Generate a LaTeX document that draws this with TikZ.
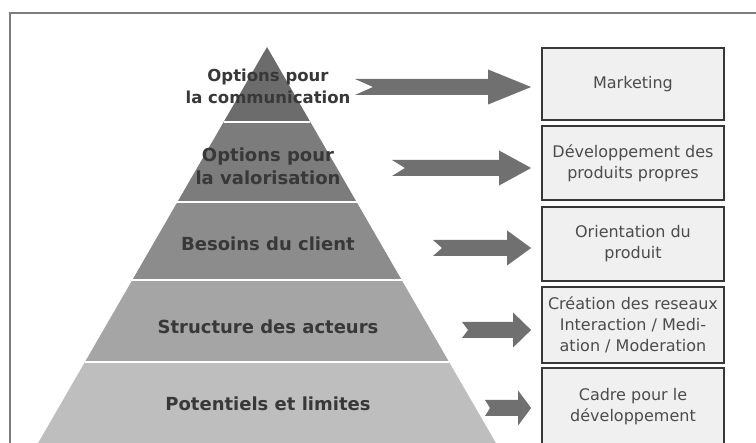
\documentclass[tikz,border=0pt]{standalone}
\usepackage{fontspec}
\setmainfont{DejaVu Sans}
\usetikzlibrary{calc}
\definecolor{rim}{RGB}{125,125,125}
\definecolor{shade1}{RGB}{108,108,108}
\definecolor{shade2}{RGB}{124,124,124}
\definecolor{shade3}{RGB}{140,140,140}
\definecolor{shade4}{RGB}{165,165,165}
\definecolor{shade5}{RGB}{190,190,190}
\definecolor{ink}{RGB}{56,56,56}
\definecolor{arrowgrey}{RGB}{112,112,112}
\definecolor{paper}{RGB}{240,240,240}
\tikzset{
  level/.style={font=\fontsize{18}{23}\selectfont\bfseries,text=ink,align=center},
  outcome/.style={draw=ink,fill=paper,line width=1.8pt,minimum width=182pt,
    minimum height=#1,align=center,text=ink!90,font=\fontsize{16}{21}\selectfont,inner sep=2pt},
  outcome/.default=74pt,
}
% notched block arrow: tail, tip, head length, notch depth
\newcommand\notcharrow[4]{%
  \fill[arrowgrey] ([yshift=8pt]#1) -- ([xshift=-#3,yshift=8pt]#2) -- ([xshift=-#3,yshift=17.5pt]#2)
    -- (#2) -- ([xshift=-#3,yshift=-17.5pt]#2) -- ([xshift=-#3,yshift=-8pt]#2)
    -- ([yshift=-8pt]#1) -- ([xshift=#4]#1) -- cycle;}

\begin{document}
\begin{tikzpicture}[x=1pt,y=-1pt]
  \useasboundingbox (0,0) rectangle (756,443);
  \fill[white] (0,0) rectangle (756,443);
  \draw[rim,line width=1.3pt] (10,443) -- (10,13) -- (756,13);
  % pyramid
  \foreach \ya/\yb/\c in {47/122/shade1,122/202/shade2,202/280/shade3,280/362/shade4,362/443/shade5}{
    \fill[\c] ({267-0.578*(\ya-47)},\ya) -- ({267+0.578*(\ya-47)},\ya)
      -- ({267+0.578*(\yb-47)},\yb) -- ({267-0.578*(\yb-47)},\yb) -- cycle;
  }
  \foreach \ys in {122,202,280,362}
    \draw[white,line width=2pt] ({267-0.578*(\ys-47)},\ys) -- ({267+0.578*(\ys-47)},\ys);
  \node[level,font=\fontsize{16.5}{22}\selectfont\bfseries] (l1) at (268,86) {Options pour\\la communication};
  \node[level] (l2) at (268,166) {Options pour\\la valorisation};
  \node[level] (l3) at (268,244) {Besoins du client};
  \node[level] (l4) at (268,327) {Structure des acteurs};
  \node[level] (l5) at (268,404) {Potentiels et limites};
  % outcomes
  \node[outcome=72pt] (m1) at (633,84) {Marketing};
  \node[outcome] (m2) at (633,163) {Développement des\\produits propres};
  \node[outcome] (m3) at (633,244) {Orientation du\\produit};
  \node[outcome=76pt] (m4) at (633,325) {Création des reseaux\\Interaction / Medi-\\ation / Moderation};
  \node[outcome=78pt] (m5) at (633,407) {Cadre pour le\\développement};
  % arrows
  \foreach \i/\px/\py/\hl/\nd in {1/355/87/43pt/18pt,2/392/168/32pt/13pt,3/433/248/24pt/9pt,4/462/330/18pt/6pt,5/485/408/13pt/5pt}{
    \coordinate (t\i) at (\px,\py);
    \coordinate (h\i) at ([xshift=-10pt]m\i.west |- t\i);
    \notcharrow{t\i}{h\i}{\hl}{\nd}
  }
\end{tikzpicture}
\end{document}
